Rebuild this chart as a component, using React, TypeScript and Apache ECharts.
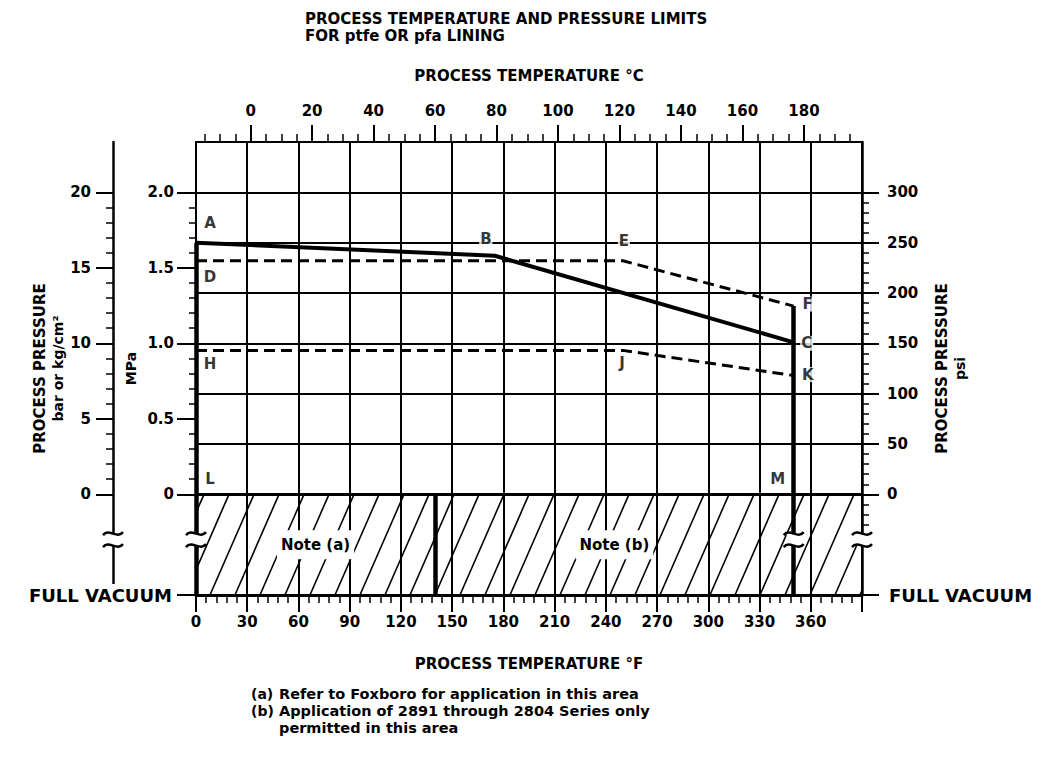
import React, { useEffect, useRef } from "react";
import * as echarts from "echarts";

const FONT = "'DejaVu Sans', 'Liberation Sans', sans-serif";
const INK = "#000";

// ---- scales: temperature in °F, pressure in psi as drawn on the chart ----
const TEMP_F_MIN = 0;
const TEMP_F_MAX = 390;
const TEMP_F_STEP = 30;
const TEMP_F_LAST_LABEL = 360;
const PSI_MIN = -100; // "FULL VACUUM" (below the axis break)
const PSI_MAX = 350;
const PSI_PER_MPA = 150; // 2.0 MPa is drawn on the 300 psi line
const PSI_PER_BAR = 15; // 20 bar is drawn on the 300 psi line

// ---- tick labels ----
const psiTicks = [0, 50, 100, 150, 200, 250, 300];
const mpaTicks = [0, 0.5, 1.0, 1.5, 2.0];
const barTicks = [0, 5, 10, 15, 20];
const celsiusTicks = [0, 20, 40, 60, 80, 100, 120, 140, 160, 180];

// ---- limit lines [°F, psi] ----
const lineABC = [[0, 250], [175, 237], [350, 151]];
const lineDEF = [[0, 232], [250, 232], [350, 187]];
const lineHJK = [[0, 143], [250, 143], [350, 118]];
const namesABC = ["A", "B", "C"];
const namesDEF = ["D", "E", "F"];
const namesHJK = ["H", "J", "K"];
const zeroCorners = [[0, 0], [350, 0]];
const namesLM = ["L", "M"];
const dividerF = 140;
const noteRegions = [
  { label: "Note (a)", from: 0, to: 140 },
  { label: "Note (b)", from: 140, to: 350 },
];
const breakPsi = -45;

// ---- layout / style ----
const GRID = { left: 196, right: 182, top: 142, bottom: 168 };
const BAR_AXIS_OFFSET = 83;
const HATCH_SPACING = 25;
const HATCH_RUN = 44;
const letterOffsets: Record<string, [number, number]> = {
  A: [14, -20],
  B: [-9, -17],
  C: [13, 1],
  D: [14, 16],
  E: [1, -20],
  F: [14, -2],
  H: [14, 14],
  J: [-1, 13],
  K: [14, -1],
  L: [14, -15],
  M: [-16, -15],
};

function stepRange(start: number, end: number, step: number): number[] {
  const out: number[] = [];
  for (let v = start; v <= end + 1e-9; v += step) out.push(Math.round(v * 1000) / 1000);
  return out;
}

const celsiusMinor = stepRange(-15, 195, 5).filter((v) => v % 20 !== 0);
const psiMinor = stepRange(-40, 290, 10).filter((v) => v % 50 !== 0);
const barMinor = stepRange(1, 19, 1).filter((v) => v % 5 !== 0).map((b) => b * PSI_PER_BAR);
const mpaMinor = stepRange(1, 19, 1).filter((v) => v % 5 !== 0).map((t) => t * 0.1 * PSI_PER_MPA);

const textStyle = { color: INK, fontFamily: FONT, fontSize: 15, fontWeight: "bold" as const };
const noLine = { show: false, onZero: false };

function renderHatch(params: any, api: any) {
  const tl = api.coord([TEMP_F_MIN, 0]);
  const br = api.coord([TEMP_F_MAX, PSI_MIN]);
  const left = tl[0], top = tl[1], right = br[0], bottom = br[1];
  const h = bottom - top;
  const children: any[] = [];
  for (let b = left - HATCH_RUN + 8; b < right; b += HATCH_SPACING) {
    let x1 = b, y1 = bottom, x2 = b + HATCH_RUN, y2 = top;
    if (x1 < left) {
      const t = (left - x1) / HATCH_RUN;
      x1 = left;
      y1 = bottom - t * h;
    }
    if (x2 > right) {
      const t = (x2 - right) / HATCH_RUN;
      x2 = right;
      y2 = top + t * h;
    }
    if (x2 <= x1) continue;
    children.push({
      type: "line",
      shape: { x1, y1, x2, y2 },
      style: { stroke: INK, lineWidth: 1.6 },
    });
  }
  noteRegions.forEach((r) => {
    const p = api.coord([(r.from + r.to) / 2, PSI_MIN / 2]);
    children.push({
      type: "text",
      style: {
        text: r.label,
        x: p[0],
        y: p[1],
        align: "center",
        verticalAlign: "middle",
        fill: INK,
        fontSize: 15,
        fontWeight: "bold",
        fontFamily: FONT,
        backgroundColor: "#fff",
        padding: [7, 4],
      },
    });
  });
  return { type: "group", children };
}

function renderBreaks(params: any, api: any) {
  const cs = params.coordSys;
  const y = api.coord([0, breakPsi])[1];
  const xs = [
    cs.x - BAR_AXIS_OFFSET,
    api.coord([lineABC[0][0], breakPsi])[0],
    api.coord([lineDEF[2][0], breakPsi])[0],
    api.coord([TEMP_F_MAX, breakPsi])[0],
  ];
  const children: any[] = [];
  xs.forEach((x) => {
    children.push({
      type: "rect",
      shape: { x: x - 7, y: y - 6, width: 14, height: 12 },
      style: { fill: "#fff" },
    });
    [-6, 6].forEach((dy) => {
      children.push({
        type: "bezierCurve",
        shape: {
          x1: x - 10,
          y1: y + dy + 1.5,
          cpx1: x - 4,
          cpy1: y + dy - 6,
          cpx2: x + 4,
          cpy2: y + dy + 6,
          x2: x + 10,
          y2: y + dy - 1.5,
        },
        style: { stroke: INK, lineWidth: 2.5, fill: "none" },
      });
    });
  });
  return { type: "group", children };
}

function letterItems(names: string[], pts: number[][]) {
  return names.map((n, i) => ({
    name: n,
    value: pts[i],
    label: { offset: letterOffsets[n] },
  }));
}

function pageText(x: number, y: number, text: string, size = 15) {
  return {
    type: "text",
    x,
    y,
    style: { text, fontSize: size, fontWeight: "bold", fontFamily: FONT, fill: INK, verticalAlign: "middle" },
  };
}

function buildOption(): any {
  const mpaValues = mpaTicks.map((m) => m * PSI_PER_MPA);
  const barValues = barTicks.map((b) => b * PSI_PER_BAR);
  const fullVacuumRich = {
    fv: {
      fontSize: 18,
      fontWeight: "bold",
      fontFamily: FONT,
      color: INK,
      backgroundColor: "#fff",
      padding: [2, 2],
    },
  };
  const nameRich = {
    a: { fontSize: 15, fontWeight: "bold", fontFamily: FONT, color: INK, lineHeight: 19 },
    b: { fontSize: 14, fontWeight: "bold", fontFamily: FONT, color: INK, lineHeight: 17 },
  };
  return {
    animation: false,
    backgroundColor: "#fff",
    grid: {
      ...GRID,
      containLabel: false,
      outerBoundsMode: "none",
      show: true,
      borderColor: INK,
      borderWidth: 2,
      backgroundColor: "transparent",
    },
    graphic: [
      pageText(305, 19, "PROCESS TEMPERATURE AND PRESSURE LIMITS"),
      pageText(305, 36, "FOR ptfe OR pfa LINING"),
      pageText(251, 694, "(a)", 14),
      pageText(279, 694, "Refer to Foxboro for application in this area", 14.5),
      pageText(251, 711, "(b)", 14),
      pageText(279, 711, "Application of 2891 through 2804 Series only", 14.5),
      pageText(279, 728, "permitted in this area", 14.5),
    ],
    xAxis: [
      {
        type: "value",
        position: "bottom",
        min: TEMP_F_MIN,
        max: TEMP_F_MAX,
        interval: TEMP_F_STEP,
        axisLine: { show: true, onZero: false, lineStyle: { color: INK, width: 3 } },
        axisTick: { show: true, length: 17, lineStyle: { color: INK, width: 2 } },
        minorTick: { show: true, splitNumber: 5, length: 8, lineStyle: { color: INK, width: 1.5 } },
        axisLabel: {
          ...textStyle,
          margin: 19,
          formatter: (v: number) => (v <= TEMP_F_LAST_LABEL ? String(v) : ""),
        },
        splitLine: { show: true, lineStyle: { color: INK, width: 2 } },
        name: "PROCESS TEMPERATURE °F",
        nameLocation: "middle",
        nameGap: 61,
        nameMoveOverlap: false,
        nameTextStyle: { ...textStyle },
      },
      {
        type: "value",
        position: "top",
        min: (TEMP_F_MIN - 32) / 1.8,
        max: (TEMP_F_MAX - 32) / 1.8,
        axisLine: noLine,
        axisTick: { show: true, customValues: celsiusTicks, length: 17, lineStyle: { color: INK, width: 2 } },
        axisLabel: { ...textStyle, customValues: celsiusTicks, margin: 24 },
        splitLine: { show: false },
        name: "PROCESS TEMPERATURE °C",
        nameLocation: "middle",
        nameGap: 59,
        nameMoveOverlap: false,
        nameTextStyle: { ...textStyle },
      },
      {
        type: "value",
        position: "top",
        min: (TEMP_F_MIN - 32) / 1.8,
        max: (TEMP_F_MAX - 32) / 1.8,
        axisLine: noLine,
        axisTick: { show: true, customValues: celsiusMinor, length: 8, lineStyle: { color: INK, width: 1.5 } },
        axisLabel: { show: false },
        splitLine: { show: false },
      },
    ],
    yAxis: [
      {
        type: "value",
        position: "right",
        min: PSI_MIN,
        max: PSI_MAX,
        axisLine: { show: true, onZero: false, lineStyle: { color: INK, width: 2.5 } },
        axisTick: { show: true, customValues: [PSI_MIN, ...psiTicks], length: 17, lineStyle: { color: INK, width: 2 } },
        axisLabel: {
          ...textStyle,
          customValues: [PSI_MIN, ...psiTicks],
          margin: 25,
          showMinLabel: true,
          formatter: (v: number) => (v === PSI_MIN ? "{fv|FULL VACUUM}" : String(v)),
          rich: fullVacuumRich,
        },
        splitLine: { show: false },
        name: "{a|PROCESS PRESSURE}\n{b|psi}",
        nameLocation: "middle",
        nameRotate: 90,
        nameGap: 70,
        nameMoveOverlap: false,
        nameTextStyle: { color: INK, rich: nameRich },
        z: 1,
      },
      {
        type: "value",
        position: "right",
        min: PSI_MIN,
        max: PSI_MAX,
        axisLine: noLine,
        axisTick: { show: true, customValues: psiMinor, length: 7, lineStyle: { color: INK, width: 1.5 } },
        axisLabel: { show: false },
        splitLine: { show: false },
      },
      {
        type: "value",
        position: "left",
        offset: BAR_AXIS_OFFSET,
        min: PSI_MIN,
        max: PSI_MAX,
        axisLine: { show: true, onZero: false, lineStyle: { color: INK, width: 2.5 } },
        axisTick: { show: true, customValues: barValues, length: 17, lineStyle: { color: INK, width: 2 } },
        axisLabel: {
          ...textStyle,
          customValues: barValues,
          margin: 22,
          formatter: (v: number) => String(Math.round(v / PSI_PER_BAR)),
        },
        splitLine: { show: false },
        name: "{a|PROCESS PRESSURE}\n{b|bar or kg/cm²}",
        nameLocation: "middle",
        nameRotate: 90,
        nameGap: 47,
        nameMoveOverlap: false,
        nameTextStyle: { color: INK, rich: nameRich },
        z: 1,
      },
      {
        type: "value",
        position: "left",
        offset: BAR_AXIS_OFFSET,
        min: PSI_MIN,
        max: PSI_MAX,
        axisLine: noLine,
        axisTick: { show: true, customValues: barMinor, length: 7, lineStyle: { color: INK, width: 1.5 } },
        axisLabel: { show: false },
        splitLine: { show: false },
      },
      {
        type: "value",
        position: "left",
        offset: 0,
        min: PSI_MIN,
        max: PSI_MAX,
        axisLine: { show: true, onZero: false, lineStyle: { color: INK, width: 2 } },
        axisTick: { show: true, customValues: [PSI_MIN, ...mpaValues], length: 19, lineStyle: { color: INK, width: 2 } },
        axisLabel: {
          ...textStyle,
          customValues: [PSI_MIN, ...mpaValues],
          margin: 22,
          showMinLabel: true,
          formatter: (v: number) =>
            v === PSI_MIN ? "{fv|FULL VACUUM}" : v === 0 ? "0" : (v / PSI_PER_MPA).toFixed(1),
          rich: fullVacuumRich,
        },
        splitLine: { show: false },
        name: "MPa",
        nameLocation: "middle",
        nameRotate: 90,
        nameGap: 58,
        nameMoveOverlap: false,
        nameTextStyle: { ...textStyle, fontSize: 14 },
        z: 3,
      },
      {
        type: "value",
        position: "left",
        offset: 0,
        min: PSI_MIN,
        max: PSI_MAX,
        axisLine: noLine,
        axisTick: { show: true, customValues: mpaMinor, length: 7, lineStyle: { color: INK, width: 1.5 } },
        axisLabel: { show: false },
        splitLine: { show: false },
      },
    ],
    series: [
      {
        type: "custom",
        name: "vacuum hatch",
        renderItem: renderHatch,
        data: [[TEMP_F_MIN, 0]],
        clip: false,
        silent: true,
        z: 1,
      },
      {
        type: "lines",
        name: "pressure grid",
        coordinateSystem: "cartesian2d",
        polyline: false,
        silent: true,
        lineStyle: { color: INK, width: 2, opacity: 1, curveness: 0 },
        data: psiTicks
          .filter((v) => v !== 0)
          .map((v) => ({ coords: [[TEMP_F_MIN, v], [TEMP_F_MAX, v]] })),
        z: 2,
      },
      {
        type: "lines",
        name: "zero and vacuum lines",
        coordinateSystem: "cartesian2d",
        polyline: false,
        silent: true,
        lineStyle: { color: INK, width: 3, opacity: 1, curveness: 0 },
        data: [
          { coords: [[TEMP_F_MIN, 0], [TEMP_F_MAX, 0]] },
          { coords: [[TEMP_F_MIN, PSI_MIN], [TEMP_F_MAX, PSI_MIN]] },
        ],
        z: 3,
      },
      {
        type: "lines",
        name: "boundaries",
        coordinateSystem: "cartesian2d",
        polyline: false,
        silent: true,
        lineStyle: { color: INK, width: 4.5, opacity: 1, curveness: 0 },
        data: [
          { coords: [lineABC[0], [lineABC[0][0], PSI_MIN]] },
          { coords: [[dividerF, 0], [dividerF, PSI_MIN]] },
          { coords: [lineDEF[2], [lineDEF[2][0], PSI_MIN]] },
        ],
        z: 4,
      },
      {
        type: "line",
        name: "A-B-C",
        data: lineABC,
        symbol: "none",
        silent: true,
        lineStyle: { color: INK, width: 4 },
        z: 5,
      },
      {
        type: "line",
        name: "D-E-F",
        data: lineDEF,
        symbol: "none",
        silent: true,
        lineStyle: { color: INK, width: 3, type: [11, 6] },
        z: 5,
      },
      {
        type: "line",
        name: "H-J-K",
        data: lineHJK,
        symbol: "none",
        silent: true,
        lineStyle: { color: INK, width: 3, type: [11, 6] },
        z: 5,
      },
      {
        type: "scatter",
        name: "letters",
        symbolSize: 1,
        silent: true,
        itemStyle: { color: "rgba(0,0,0,0)" },
        label: {
          show: true,
          formatter: "{b}",
          position: "inside",
          color: INK,
          fontFamily: FONT,
          fontWeight: "bold",
          fontSize: 15,
          backgroundColor: "#fff",
          padding: [0, 1],
        },
        data: [
          ...letterItems(namesABC, lineABC),
          ...letterItems(namesDEF, lineDEF),
          ...letterItems(namesHJK, lineHJK),
          ...letterItems(namesLM, zeroCorners),
        ],
        z: 8,
      },
      {
        type: "custom",
        name: "axis breaks",
        renderItem: renderBreaks,
        data: [[TEMP_F_MIN, 0]],
        clip: false,
        silent: true,
        z: 20,
      },
    ],
  };
}

export default function App() {
  const ref = useRef<HTMLDivElement>(null);
  useEffect(() => {
    document.body.style.margin = "0";
    const chart = echarts.init(ref.current as HTMLDivElement, undefined, { renderer: "svg" });
    chart.setOption(buildOption());
    return () => chart.dispose();
  }, []);
  return <div ref={ref} style={{ width: 1044, height: 763, background: "#fff" }} />;
}
